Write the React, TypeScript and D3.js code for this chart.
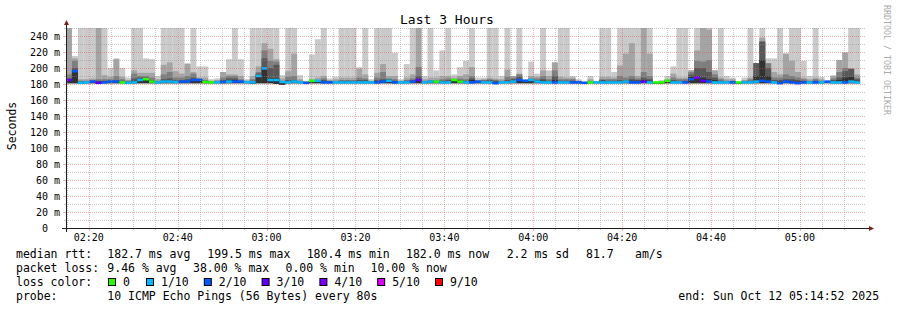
import React from 'react';
import * as d3 from 'd3';

// ---- data (80 s steps, starting at the left edge of the graph) ----
const smokeMax = [260,215,260,260,260,260,260,200,212,200,188,260,260,212,211,190,260,260,260,260,206,260,202,202,186,187,195,211,260,211,186,260,260,260,260,260,191,260,260,191,184,217,236,260,187,189,260,260,260,201,260,186,260,260,260,219,186,205,260,260,190,260,197,222,260,192,201,209,260,188,188,260,260,190,260,190,260,186,208,193,260,197,207,260,260,190,186,183,190,184,260,260,195,260,260,260,260,260,260,182,185,190,202,260,260,197,260,260,260,197,260,190,188,182,188,260,206,260,212,212,260,218,260,260,209,190,260,189,183,191,210,220,260,260];
const smoke2 = [260,212,186,186,187,260,191,189,211,189,185,197,194,194,194,186,204,207,196,193,205,195,188,188,184,185,195,192,192,190,184,190,202,231,224,211,187,196,218,186,183,186,188,190,185,186,188,188,188,199,192,184,194,205,190,190,184,188,192,260,186,188,188,190,190,188,190,192,201,185,186,188,187,186,198,190,193,185,190,189,197,190,207,189,188,188,184,182,186,183,189,189,188,203,218,231,190,260,218,182,183,186,193,188,188,197,222,260,248,197,188,186,186,182,185,188,206,238,206,195,192,218,209,195,188,186,188,186,182,190,210,219,199,192];
const smoke3 = [192,209,184,184,185,186,186,186,190,186,184,193,190,190,188,184,192,195,188,188,190,193,187,185,183,184,188,190,190,186,183,186,195,222,209,208,184,189,190,184,182,184,185,187,184,184,185,185,185,188,187,183,188,195,187,186,183,185,187,201,184,185,185,186,187,186,187,186,190,184,185,186,185,184,189,188,192,184,187,187,190,186,197,186,186,186,183,182,184,183,186,186,186,190,188,190,187,195,190,181.5,182,185,188,186,186,195,209,208,210,192,186,184,184,181.5,184,186,206,233,206,188,188,192,190,188,186,184,186,184,182,187,195,200,199,188];
const smoke4 = [187,200,183,183,184,184,184,184,185,184,183,187,188,188,185,183,186,187,185,185,186,188,186,184,182,183,185,187,187,184,183,184,193,212,200,204,183,185,185,183,182,183,184,185,183,183,184,184,184,185,185,183,185,186,186,184,183,184,185,190,183,184,184,184,185,185,185,184,187,183,184,185,184,183,185,186,189,184,186,185,186,184,190,184,184,184,183,181.5,183,182,185,184,184,185,185,186,185,188,186,181.5,182,184,185,184,184,192,200,200,195,188,184,183,183,181.5,183,184,206,233,200,185,185,186,186,185,184,183,184,183,182,185,188,196,199,186];
const smoke5 = [185,197,182,182,183,183,183,183,183,183,182,184,186,187,184,182,184,184,183,184,184,186,186,183,182,182,183,185,185,183,182,183,191,201,187,187,182,183,183,182,181.5,183,183,183,182,182,183,183,183,183,183,182,183,184,185,183,182,183,183,186,182,183,183,183,183,185,184,183,185,183,183,183,182,182,183,184,186,184,185,184,184,183,185,183,183,183,182,181,182,182,184,183,183,183,183,184,184,185,184,181,181,184,183,183,183,189,190,188,186,185,183,182,182,181,182,183,190,210,190,183,183,184,184,183,183,182,183,182,181,183,185,188,189,184];
const pingMin = [181,181,180.5,181,181,180.5,181,181,181,181,180.5,181,181,181,181,181,181,181,181,181,181,181,181,181,181,181,181,181,181,181,181,180.5,181,181,181,180,179,181,181,181,180.5,181,181,181,181,181,181,181,181,181,181,181,181,181,181,181,181,181,181,181,181,181,181,181,181,181,181,181,181,181,181,181,180.5,181,181,181,181,181,181,181,181,181,181,181,181,181,181,180.5,181,181,181,181,181,181,181,181,181,181,181,180.5,180.5,181,181,181,181,181,181,181,181,181,181,181,181,180.5,181,181,181,181,181,181,180.5,181,181,180.5,181,181,181,181,181,181,181,181,181,181];
const medianRtt = [185,196,181.5,182,183,181.5,182,183,183,182,181.5,182,185,186,183,182,183,183,182.5,183,183,185,185,182.5,182,182,182.5,183,183,183,182.5,182,190,199.5,185,185,182.5,182,183,182,181.5,184,184,182,182,182,182,182,182,182,182,182,182,183,184,182,182,182,183,185,182,183,183,182,182,185,183,182,182,183,182,182,181,182,182,183,185,184,185,183,182,182,182,182,182,182,182,181.5,182,182,182,182,182,182,183,182,182,183,182,182,182,184,182,182,182,186,188,184,183,182,182,182,182,182,182,182,183,184,183,182,181,183,182,181,182,182,182,182,183,182,182,182,183,182];
const lossCount = [3,2,1,1,2,3,2,2,2,0,1,1,1,0,0,1,1,1,1,2,2,2,2,0,0,1,2,1,2,2,1,1,1,1,1,1,1,1,1,1,2,0,1,2,2,1,1,1,1,1,1,1,2,2,1,2,1,1,2,3,1,1,0,1,1,0,0,1,2,2,1,1,2,1,1,1,2,2,1,1,1,1,2,1,1,2,2,2,0,1,1,1,1,1,1,2,2,3,1,0,0,0,1,1,2,2,4,3,2,1,1,1,2,0,1,1,1,2,2,1,2,2,2,2,2,1,2,1,2,1,1,2,1,1];

const lossLevels = [0, 1, 2, 3, 4, 5, 9];
const lossLabels = ['0', '1/10', '2/10', '3/10', '4/10', '5/10', '9/10'];
const lossColors = ['#26ff00', '#00b8ff', '#0059ff', '#5e00ff', '#7e00ff', '#dd00ff', '#ff0000'];
const smokeColors = ['#cacaca', '#a4a4a4', '#7e7e7e', '#585858', '#323232'];

const yTickValues = [0, 20, 40, 60, 80, 100, 120, 140, 160, 180, 200, 220, 240];
const yTickLabels = ['0', '20 m', '40 m', '60 m', '80 m', '100 m', '120 m', '140 m', '160 m', '180 m', '200 m', '220 m', '240 m'];
const xTickLabels = ['02:20', '02:40', '03:00', '03:20', '03:40', '04:00', '04:20', '04:40', '05:00'];

const legendRtt = ['median rtt:', '182.7 ms avg', '199.5 ms max', '180.4 ms min', '182.0 ms now', '2.2 ms sd', '81.7', 'am/s'];
const legendRttX = [16, 107.3, 207.3, 306.7, 406, 506.7, 586, 635];
const legendLoss = ['packet loss:', '9.46 % avg', '38.00 % max', '0.00 % min', '10.00 % now'];
const legendLossX = [16, 107.3, 193, 285.5, 370.5];
const lossBoxX = [108, 146, 203.8, 261.6, 319.4, 377.2, 435];

const STEP = 80;

function lossColor(l: number) {
  let c = lossColors[0];
  lossLevels.forEach((lv, i) => { if (l >= lv) c = lossColors[i]; });
  return c;
}

export default function App() {
  const tEnd = new Date(2025, 9, 12, 5, 14, 52);
  const tStart = new Date(tEnd.getTime() - 3 * 3600 * 1000);
  const X0 = 66, X1 = 866, Y0 = 228, Y1 = 28;
  const x = d3.scaleTime().domain([tStart, tEnd]).range([X0, X1]);
  const y = d3.scaleLinear().domain([0, 250]).range([Y0, Y1]);

  const stepT = (k: number) => new Date(tStart.getTime() + k * STEP * 1000);
  const bands = [smokeMax, smoke2, smoke3, smoke4, smoke5];

  const minorT = d3.timeMinute.every(5)!.range(tStart, tEnd).filter(d => d.getMinutes() % 20 !== 0);
  const majorT = xTickLabels.map(s => {
    const [h, m] = s.split(':').map(Number);
    return new Date(2025, 9, 12, h, m, 0);
  });
  const minorY = d3.range(10, 251, 20);

  const font = "'DejaVu Sans Mono', monospace";
  const gridCol = 'rgba(143,143,143,0.5)';
  const mgridCol = 'rgba(222,79,79,0.45)';

  return (
    <svg width={897} height={310} style={{ position: 'absolute', left: 0, top: 0, background: '#ffffff' }} fontFamily={font}>
      <rect x={0} y={0} width={897} height={310} fill="#ffffff" />
      <defs>
        <clipPath id="plot"><rect x={X0} y={Y1} width={X1 - X0} height={Y0 - Y1} /></clipPath>
      </defs>
      <g clipPath="url(#plot)">
        {bands.map((arr, j) => (
          <g key={j} fill={smokeColors[j]}>
            {arr.map((top, k) => {
              const xa = x(stepT(k)), xb = x(stepT(k + 1));
              const yt = y(top), yb = y(pingMin[k]);
              return <rect key={k} x={xa} y={yt} width={xb - xa} height={Math.max(0, yb - yt)} />;
            })}
          </g>
        ))}
        {medianRtt.map((m, k) => {
          const xa = x(stepT(k)), xb = x(stepT(k + 1));
          return <rect key={k} x={xa} y={y(m) - 1.25} width={xb - xa} height={2.5} fill={lossColor(lossCount[k])} />;
        })}
      </g>
      {/* grid */}
      <g strokeWidth={1} strokeDasharray="1,1" fill="none" shapeRendering="crispEdges">
        {minorY.map(v => (
          <line key={'my' + v} x1={X0} x2={X1} y1={y(v) + 0.5} y2={y(v) + 0.5} stroke={gridCol} />
        ))}
        {minorT.map((d, i) => (
          <line key={'mx' + i} x1={Math.round(x(d)) + 0.5} x2={Math.round(x(d)) + 0.5} y1={Y1} y2={Y0} stroke={gridCol} />
        ))}
        {yTickValues.filter(v => v > 0).map(v => (
          <line key={'My' + v} x1={X0} x2={X1} y1={y(v) + 0.5} y2={y(v) + 0.5} stroke={mgridCol} />
        ))}
        {majorT.map((d, i) => (
          <line key={'Mx' + i} x1={Math.round(x(d)) + 0.5} x2={Math.round(x(d)) + 0.5} y1={Y1} y2={Y0} stroke={mgridCol} />
        ))}
      </g>
      {/* small ticks outside */}
      <g strokeWidth={1} shapeRendering="crispEdges">
        {yTickValues.filter(v => v > 0).map(v => (
          <line key={'ty' + v} x1={X0 - 3} x2={X0} y1={y(v) + 0.5} y2={y(v) + 0.5} stroke={mgridCol} />
        ))}
        {minorY.map(v => (
          <line key={'tmy' + v} x1={X0 - 2} x2={X0} y1={y(v) + 0.5} y2={y(v) + 0.5} stroke={gridCol} />
        ))}
        {majorT.map((d, i) => (
          <line key={'tx' + i} x1={Math.round(x(d)) + 0.5} x2={Math.round(x(d)) + 0.5} y1={Y0} y2={Y0 + 3} stroke={mgridCol} />
        ))}
        {minorT.map((d, i) => (
          <line key={'tmx' + i} x1={Math.round(x(d)) + 0.5} x2={Math.round(x(d)) + 0.5} y1={Y0} y2={Y0 + 2} stroke={gridCol} />
        ))}
      </g>
      {/* axes */}
      <line x1={X0 - 4} x2={X1 + 3} y1={Y0 + 0.5} y2={Y0 + 0.5} stroke="#1f1f1f" strokeWidth={1} />
      <line x1={X0 + 0.5} x2={X0 + 0.5} y1={Y0 + 4} y2={Y1 - 3} stroke="#1f1f1f" strokeWidth={1} />
      <path d={`M${X1 + 3},${Y0 - 2} L${X1 + 8},${Y0 + 0.5} L${X1 + 3},${Y0 + 3} Z`} fill="#801f1f" />
      <path d={`M${X0 - 2},${Y1 - 3} L${X0 + 0.5},${Y1 - 8} L${X0 + 3},${Y1 - 3} Z`} fill="#801f1f" />
      {/* y tick labels */}
      <g fontSize={10} fill="#000" textAnchor="end">
        {yTickValues.map((v, i) => (
          <text key={v} x={v === 0 ? 48 : 60} y={y(v) + 3.5}>{yTickLabels[i]}</text>
        ))}
      </g>
      {/* x tick labels */}
      <g fontSize={10} fill="#000" textAnchor="middle">
        {majorT.map((d, i) => (
          <text key={i} x={x(d)} y={241}>{xTickLabels[i]}</text>
        ))}
      </g>
      {/* title */}
      <text x={447} y={24} fontSize={13} textAnchor="middle" fill="#000">Last 3 Hours</text>
      {/* y label */}
      <text transform="translate(16,126) rotate(-90)" fontSize={11.5} textAnchor="middle" fill="#000">Seconds</text>
      {/* watermark */}
      <text transform="translate(884,5) rotate(90)" fontSize={8.3} fill="#aaaaaa">RRDTOOL / TOBI OETIKER</text>
      {/* legend */}
      <g fontSize={11.5} fill="#000" style={{ whiteSpace: 'pre' }}>
        {legendRtt.map((s, i) => <text key={'r' + i} x={legendRttX[i]} y={258}>{s}</text>)}
        {legendLoss.map((s, i) => <text key={'l' + i} x={legendLossX[i]} y={272}>{s}</text>)}
        <text x={16} y={286}>loss color:</text>
        {lossLabels.map((s, i) => (
          <g key={'b' + i}>
            <rect x={lossBoxX[i] + 0.5} y={278.5} width={7} height={7} fill={lossColors[i]} stroke="#000" strokeWidth={1} />
            <text x={lossBoxX[i] + 15} y={286}>{s}</text>
          </g>
        ))}
        <text x={16} y={300}>probe:</text>
        <text x={107.3} y={300}>10 ICMP Echo Pings (56 Bytes) every 80s</text>
        <text x={678.3} y={300}>end: Sun Oct 12 05:14:52 2025</text>
      </g>
    </svg>
  );
}
